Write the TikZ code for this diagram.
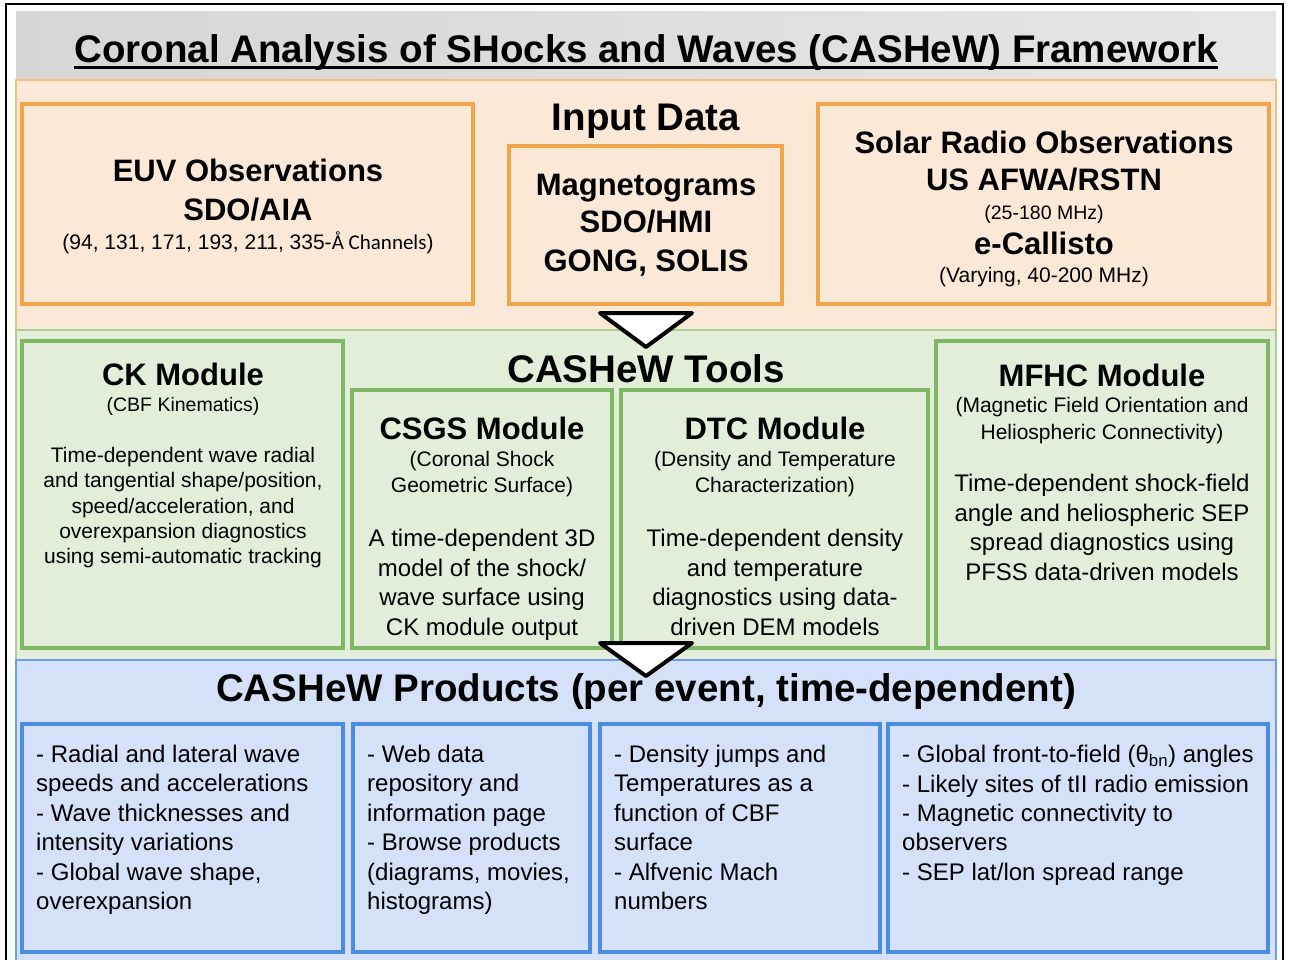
\documentclass[tikz,border=0pt]{standalone}
\usepackage{fontspec}
\setmainfont{Liberation Sans}
\newfontfamily\calfont{Carlito}
\newcommand\fsz[2]{\fontsize{#1pt}{#2pt}\selectfont}
\definecolor{titlegray}{HTML}{DDDDDD}
\definecolor{fillorange}{HTML}{FCE8D6}
\definecolor{lineorange}{HTML}{F5BE84}
\definecolor{boxorange}{HTML}{F0A54B}
\definecolor{fillgreen}{HTML}{E2EEDA}
\definecolor{linegreen}{HTML}{A8D08D}
\definecolor{boxgreen}{HTML}{7FB764}
\definecolor{fillblue}{HTML}{D4E1F8}
\definecolor{lineblue}{HTML}{6D9EEB}
\definecolor{boxblue}{HTML}{4A8CE0}
\begin{document}
\begin{tikzpicture}[x=1pt,y=-1pt,
    orangebox/.style={draw=boxorange, line width=4pt},
    greenbox/.style={draw=boxgreen, line width=4pt},
    bluebox/.style={draw=boxblue, line width=4pt},
    bigtitle/.style={font=\fsz{38.5}{46}\bfseries, anchor=base, inner sep=0pt},
    headtxt/.style={font=\fsz{31}{39}\bfseries, anchor=base, inner sep=0pt},
    smalltxt/.style={font=\fsz{21}{26}, anchor=base, inner sep=0pt},
    subtxt/.style={font=\fsz{21}{26.5}, anchor=north, align=center, inner sep=0pt},
    bodytxt/.style={font=\fsz{24}{29.5}, anchor=north, align=center, inner sep=0pt},
    listtxt/.style={font=\fsz{24}{29.4}, anchor=north west, align=left, inner sep=0pt},
    arrowhead/.style={draw=black, fill=white, line width=4pt, line join=round}]
  \clip (0,0) rectangle (1290,960);
  \fill[white] (0,0) rectangle (1290,960);
  \draw[line width=1.5pt] (6,4) rectangle (1283,985);

  \begin{scope}[line width=1.2pt]
    \shade[left color=gray!32, right color=gray!20] (16,12) rectangle (1276,80);
    \draw[draw=lineorange, fill=fillorange] (16,80) rectangle (1276,330);
    \draw[draw=linegreen, fill=fillgreen] (16,330) rectangle (1276,660);
    \draw[draw=lineblue, fill=fillblue] (16,660) rectangle (1276,985);
  \end{scope}

  \node[bigtitle] (title) at (646,63) {Coronal Analysis of SHocks and Waves (CASHeW) Framework};
  \draw[line width=2.8pt] ([yshift=-4.5pt]title.base west) -- ([yshift=-4.5pt]title.base east);

  % input data
  \draw[orangebox] (22,104) rectangle (473,304);
  \draw[orangebox] (509,146) rectangle (782,304);
  \draw[orangebox] (818,104) rectangle (1269,304);
  \node[bigtitle] (input) at (646,131) {Input Data};
  \node[headtxt] (euv1) at (248,182) {EUV Observations};
  \node[headtxt] (euv2) at (248,221) {SDO/AIA};
  \node[smalltxt] (euv3) at (248,249) {(94, 131, 171, 193, 211, 335-{\calfont Å Channels})};
  \node[headtxt] (mag1) at (646,196) {Magnetograms};
  \node[headtxt] (mag2) at (646,233) {SDO/HMI};
  \node[headtxt] (mag3) at (646,271) {GONG, SOLIS};
  \node[headtxt] (radio1) at (1044,154) {Solar Radio Observations};
  \node[headtxt] (radio2) at (1044,191) {US AFWA/RSTN};
  \node[smalltxt, font=\fsz{19.5}{24}] (radio3) at (1044,219) {(25-180 MHz)};
  \node[headtxt] (radio4) at (1044,254) {e-Callisto};
  \node[smalltxt] (radio5) at (1044,282) {(Varying, 40-200 MHz)};

  % tools
  \draw[greenbox] (22,341) rectangle (343,648);
  \draw[greenbox] (352,390) rectangle (612,648);
  \draw[greenbox] (621,390) rectangle (928,648);
  \draw[greenbox] (936,341) rectangle (1268,648);
  \node[bigtitle] (tools) at (646,382) {CASHeW Tools};
  \node[headtxt] (ck) at (183,385) {CK Module};
  \node[smalltxt, font=\fsz{19.5}{24}] (cksub) at (183,411) {(CBF Kinematics)};
  \node[subtxt, font=\fsz{21}{25.3}] (cktxt) at (183,447) {Time-dependent wave radial\\and tangential shape/position,\\speed/acceleration, and\\overexpansion diagnostics\\using semi-automatic tracking};
  \node[headtxt] (csgs) at (482,439) {CSGS Module};
  \node[subtxt] (csgssub) at (482,451) {(Coronal Shock\\Geometric Surface)};
  \node[bodytxt] (csgstxt) at (482,529) {A time-dependent 3D\\model of the shock/\\wave surface using\\CK module output};
  \node[headtxt] (dtc) at (775,439) {DTC Module};
  \node[subtxt] (dtcsub) at (775,451) {(Density and Temperature\\Characterization)};
  \node[bodytxt] (dtctxt) at (775,529) {Time-dependent density\\and temperature\\diagnostics using data-\\driven DEM models};
  \node[headtxt] (mfhc) at (1102,386) {MFHC Module};
  \node[subtxt, font=\fsz{21}{27}] (mfhcsub) at (1102,397) {(Magnetic Field Orientation and\\Heliospheric Connectivity)};
  \node[bodytxt, font=\fsz{24}{29.7}] (mfhctxt) at (1102,474) {Time-dependent shock-field\\angle and heliospheric SEP\\spread diagnostics using\\PFSS data-driven models};

  % products
  \draw[bluebox] (22,724) rectangle (343,952);
  \draw[bluebox] (353,724) rectangle (590,952);
  \draw[bluebox] (600,724) rectangle (880,952);
  \draw[bluebox] (888,724) rectangle (1268,952);

  \draw[arrowhead] (600,313) -- (692,313) -- (646,347) -- cycle;
  \draw[arrowhead] (600,643) -- (692,643) -- (646,676) -- cycle;

  \node[bigtitle] (products) at (646,701) {CASHeW Products (per event, time-dependent)};
  \node[listtxt] (prod1) at (36,745) {- Radial and lateral wave\\speeds and accelerations\\- Wave thicknesses and\\intensity variations\\- Global wave shape,\\overexpansion};
  \node[listtxt] (prod2) at (367,745) {- Web data\\repository and\\information page\\- Browse products\\(diagrams, movies,\\histograms)};
  \node[listtxt] (prod3) at (614,745) {- Density jumps and\\Temperatures as a\\function of CBF\\surface\\- Alfvenic Mach\\numbers};
  \node[listtxt] (prod4) at (902,745) {- Global front-to-field (θ\textsubscript{bn}) angles\\- Likely sites of tII radio emission\\- Magnetic connectivity to\\observers\\- SEP lat/lon spread range};
\end{tikzpicture}
\end{document}
